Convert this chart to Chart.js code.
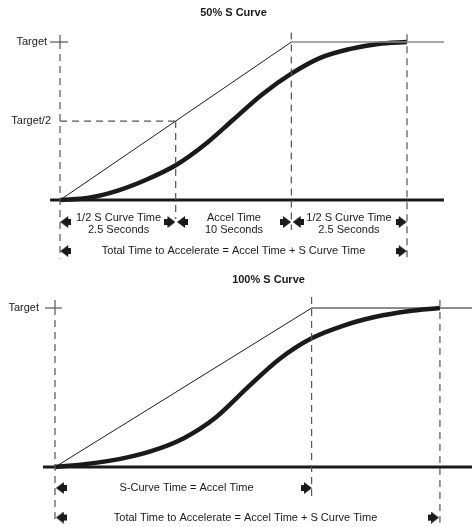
<!DOCTYPE html>
<html>
<head>
<meta charset="utf-8">
<script src="https://cdn.jsdelivr.net/npm/chart.js@4.4.1/dist/chart.umd.min.js"></script>
<style>
  html, body { margin: 0; padding: 0; background: #fff; }
  canvas { display: block; }
</style>
</head>
<body>
<canvas id="myChart" width="472" height="527"></canvas>
<script>
// x runs in diagram steps: 0 = start, 1/2/3 = the dashed markers.  y: 0 = zero speed, 1 = Target

// 50% S curve (top panel)
const topCurveX = [0, 0.25, 0.5, 0.75, 1.0, 1.25, 1.5, 1.75, 2.0, 2.25, 2.5, 2.75, 3.0];
const topCurveY = [0, 0.015, 0.06, 0.13, 0.22, 0.35, 0.51, 0.67, 0.80, 0.90, 0.955, 0.988, 1.0];
const topRampX = [0, 2, 3.32];
const topRampY = [0, 1, 1];
const topMarkers = [0, 1, 2, 3];

// 100% S curve (bottom panel)
const botCurveX = [0, 0.25, 0.5, 0.75, 1.0, 1.25, 1.5, 1.75, 2.0, 2.25, 2.5, 2.75, 3.0];
const botCurveY = [0, 0.02, 0.05, 0.10, 0.18, 0.31, 0.50, 0.68, 0.81, 0.89, 0.945, 0.98, 1.0];
const botRampX = [0, 2, 3.25];
const botRampY = [0, 1, 1];
const botMarkers = [0, 2, 3];

// arrow heads (centres), one row per label line
const topArrowsLeft = [0.05, 1.06, 2.06, 0.05];
const topArrowsLeftRow = [-0.139, -0.139, -0.139, -0.323];
const topArrowsRight = [0.95, 1.95, 2.95, 2.95];
const topArrowsRightRow = [-0.139, -0.139, -0.139, -0.323];
const botArrowsLeft = [0.05, 0.05];
const botArrowsLeftRow = [-0.132, -0.318];
const botArrowsRight = [1.96, 2.95];
const botArrowsRightRow = [-0.132, -0.318];

const titles = ['50% S Curve', '100% S Curve'];
const axisLabels = ['Target', 'Target/2'];
const spanLabels = ['1/2 S Curve Time', '2.5 Seconds', 'Accel Time', '10 Seconds', 'S-Curve Time = Accel Time'];
const totalLabel = 'Total Time to Accelerate = Accel Time + S Curve Time';

const INK = '#1a1a1a';
const DASH = '#555';

function pts(xs, ys) {
  return xs.map((x, i) => ({ x: x, y: ys[i] }));
}

function makeArrow() {
  const c = document.createElement('canvas');
  c.width = 11;
  c.height = 12;
  const g = c.getContext('2d');
  g.fillStyle = INK;
  g.fillRect(0, 3, 4, 6);
  g.beginPath();
  g.moveTo(3, 0);
  g.lineTo(11, 6);
  g.lineTo(3, 12);
  g.closePath();
  g.fill();
  return c;
}
const arrowImg = makeArrow();

function line(panel, data, color, width, dash) {
  return {
    data: data,
    xAxisID: 'x' + panel,
    yAxisID: 'y' + panel,
    showLine: true,
    borderColor: color,
    borderWidth: width,
    borderDash: dash || [],
    pointRadius: 0,
    tension: 0,
  };
}

function curve(panel, data) {
  const ds = line(panel, data, INK, 4.5);
  ds.cubicInterpolationMode = 'monotone';
  return ds;
}

function arrows(panel, xs, ys, rot) {
  return {
    data: pts(xs, ys),
    xAxisID: 'x' + panel,
    yAxisID: 'y' + panel,
    showLine: false,
    pointStyle: arrowImg,
    rotation: rot,
    pointRadius: 6,
  };
}

const dash = [7, 5];
const datasets = [
  // top panel guides
  line('Top', [{ x: topMarkers[0], y: 1 }, { x: topMarkers[0], y: -0.37 }], DASH, 1.2, dash),
  line('Top', [{ x: topMarkers[0], y: 0.5 }, { x: topMarkers[1], y: 0.5 }], DASH, 1.2, dash),
  line('Top', [{ x: topMarkers[1], y: 0.5 }, { x: topMarkers[1], y: -0.12 }], DASH, 1.2, dash),
  line('Top', [{ x: topMarkers[2], y: 1.06 }, { x: topMarkers[2], y: -0.19 }], DASH, 1.2, dash),
  line('Top', [{ x: topMarkers[3], y: 1.05 }, { x: topMarkers[3], y: -0.37 }], DASH, 1.2, dash),
  line('Top', [{ x: -0.086, y: 1 }, { x: 0.07, y: 1 }], DASH, 1.2),
  line('Top', [{ x: 0, y: 1 }, { x: 0, y: 1.045 }], DASH, 1.2),
  line('Top', pts(topRampX.slice(0, 2), topRampY.slice(0, 2)), INK, 1),
  line('Top', pts(topRampX.slice(1), topRampY.slice(1)), '#888', 1.6),
  line('Top', [{ x: -0.086, y: 0 }, { x: 3.32, y: 0 }], INK, 3),
  curve('Top', pts(topCurveX, topCurveY)),
  arrows('Top', topArrowsLeft, topArrowsLeftRow, 180),
  arrows('Top', topArrowsRight, topArrowsRightRow, 0),

  // bottom panel guides
  line('Bot', [{ x: botMarkers[0], y: 1 }, { x: botMarkers[0], y: -0.35 }], DASH, 1.2, dash),
  line('Bot', [{ x: botMarkers[1], y: 1.07 }, { x: botMarkers[1], y: -0.19 }], DASH, 1.2, dash),
  line('Bot', [{ x: botMarkers[2], y: 1.05 }, { x: botMarkers[2], y: -0.35 }], DASH, 1.2, dash),
  line('Bot', [{ x: -0.078, y: 1 }, { x: 0.055, y: 1 }], DASH, 1.2),
  line('Bot', [{ x: 0, y: 1 }, { x: 0, y: 1.05 }], DASH, 1.2),
  line('Bot', pts(botRampX, botRampY), INK, 1),
  line('Bot', [{ x: -0.094, y: 0 }, { x: 3.25, y: 0 }], INK, 3),
  curve('Bot', pts(botCurveX, botCurveY)),
  arrows('Bot', botArrowsLeft, botArrowsLeftRow, 180),
  arrows('Bot', botArrowsRight, botArrowsRightRow, 0),
];

// text placed in panel units
const notes = [
  { p: 'Top', t: titles[0], x: 1.5, y: 1.184, bold: true },
  { p: 'Top', t: axisLabels[0], x: -0.112, y: 1.0, align: 'right' },
  { p: 'Top', t: axisLabels[1], x: -0.078, y: 0.5, align: 'right' },
  { p: 'Top', t: spanLabels[0], x: 0.506, y: -0.114 },
  { p: 'Top', t: spanLabels[1], x: 0.506, y: -0.19 },
  { p: 'Top', t: spanLabels[2], x: 1.504, y: -0.114 },
  { p: 'Top', t: spanLabels[3], x: 1.504, y: -0.19 },
  { p: 'Top', t: spanLabels[0], x: 2.498, y: -0.114 },
  { p: 'Top', t: spanLabels[1], x: 2.498, y: -0.19 },
  { p: 'Top', t: totalLabel, x: 1.5, y: -0.323 },
  { p: 'Bot', t: titles[1], x: 1.664, y: 1.179, bold: true },
  { p: 'Bot', t: axisLabels[0], x: -0.125, y: 1.0, align: 'right' },
  { p: 'Bot', t: spanLabels[4], x: 1.025, y: -0.132 },
  { p: 'Bot', t: totalLabel, x: 1.485, y: -0.32 },
];

const textPlugin = {
  id: 'notes',
  afterDatasetsDraw(chart) {
    const c = chart.ctx;
    c.save();
    c.fillStyle = INK;
    c.textBaseline = 'middle';
    notes.forEach((n) => {
      const xs = chart.scales['x' + n.p];
      const ys = chart.scales['y' + n.p];
      c.font = (n.bold ? 'bold ' : '') + '11px "Liberation Sans", Arial, sans-serif';
      c.textAlign = n.align || 'center';
      c.fillText(n.t, xs.getPixelForValue(n.x), ys.getPixelForValue(n.y));
    });
    c.restore();
  }
};

const hidden = { type: 'linear', display: false };
const config = {
  type: 'scatter',
  data: { datasets: datasets },
  options: {
    responsive: false,
    animation: false,
    layout: { padding: 0, autoPadding: false },
    plugins: {
      legend: { display: false },
      tooltip: { enabled: false },
    },
    scales: {
      xTop: Object.assign({ axis: 'x', min: -0.519, max: 3.562 }, hidden),
      yTop: Object.assign({ axis: 'y', min: -2.069, max: 1.266 }, hidden),
      xBot: Object.assign({ axis: 'x', min: -0.4287, max: 3.25 }, hidden),
      yBot: Object.assign({ axis: 'y', min: -0.377, max: 2.937 }, hidden),
    }
  },
  plugins: [textPlugin]
};

const ctx = document.getElementById('myChart').getContext('2d');
const myChart = new Chart(ctx, config);
</script>
</body>
</html>
